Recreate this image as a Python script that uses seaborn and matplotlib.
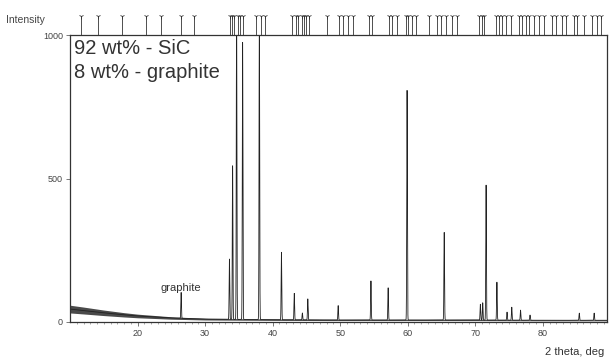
import numpy as np
import pandas as pd
import matplotlib
matplotlib.use("Agg")
import matplotlib.pyplot as plt
import seaborn as sns

# ---- data ----
peak_theta = [26.45, 33.6, 34.07, 34.66, 35.55, 38.03, 41.3, 43.2, 44.4, 45.2,
              49.7, 54.55, 57.1, 59.9, 65.4, 70.75, 71.1, 71.6, 73.2, 74.7,
              75.4, 76.7, 78.1, 85.4, 87.6]
peak_int = [90, 210, 535, 1100, 965, 1100, 235, 92, 24, 73,
            50, 136, 112, 800, 305, 55, 60, 470, 132, 28,
            45, 35, 18, 25, 25]
bg_theta = [10, 12, 15, 18, 20, 25, 30, 40, 50, 60, 70, 80, 90]
bg_int = [45, 40, 32, 25, 21, 14, 10, 8, 7, 7, 7, 6, 6]
stick_theta = [11.6, 14.1, 17.7, 21.3, 23.5, 26.5, 28.4, 33.7, 34.0, 34.3, 34.8,
               35.2, 35.6, 37.6, 38.2, 38.9, 42.8, 43.4, 43.8, 44.3, 44.6, 44.9,
               45.4, 48.0, 49.8, 50.4, 51.1, 51.9, 54.2, 54.7, 57.2, 57.6, 58.4,
               59.7, 60.1, 60.6, 61.2, 63.1, 64.3, 64.9, 65.6, 66.5, 67.3, 70.5,
               71.0, 71.3, 73.0, 73.5, 73.9, 74.5, 75.3, 76.5, 76.9, 77.5, 77.9,
               78.7, 79.4, 80.2, 81.4, 81.9, 82.8, 83.4, 84.6, 85.1, 86.1, 87.3,
               88.0, 88.6]
y_ticks = [0, 500, 1000]
x_ticks = [20, 30, 40, 50, 60, 70, 80]

# ---- build profile ----
theta = np.arange(10, 89.6, 0.005)
bg = np.interp(theta, bg_theta, bg_int)
profile = bg.copy()
s = 0.045
for t0, h in zip(peak_theta, peak_int):
    profile += h * np.exp(-0.5 * ((theta - t0) / s) ** 2)
profile = np.minimum(profile, 1040)
df = pd.DataFrame({"theta": theta, "I": profile})

sns.set_style("ticks")
plt.rcParams["font.family"] = ["Liberation Sans", "DejaVu Sans"]

fig = plt.figure(figsize=(6.09, 3.62), dpi=100)
ax = fig.add_axes([0.115, 0.1105, 0.8817, 0.7928])
ax_top = fig.add_axes([0.115, 0.9033, 0.8817, 0.07], sharex=ax)

ax.fill_between(theta, bg * 0.7, bg * 1.3, color="#2a2a2a", lw=0, alpha=0.85)
sns.lineplot(data=df, x="theta", y="I", ax=ax, color="#222222", lw=0.6)

ax.set_xlim(10, 89.5)
ax.set_ylim(0, 1000)
ax.set_xticks(x_ticks)
ax.set_xticks(np.arange(11, 90, 1), minor=True)
ax.set_yticks(y_ticks)
ax.tick_params(axis="both", labelsize=6.5, colors="#444444", length=3, width=0.5, pad=2)
ax.tick_params(axis="x", which="minor", length=1.5, width=0.4, colors="#666666")
ax.set_xlabel("")
ax.set_ylabel("")
for sp in ax.spines.values():
    sp.set_linewidth(0.9)
    sp.set_color("#333333")

ax.text(0.007, 0.985, "92 wt% - SiC\n8 wt% - graphite", transform=ax.transAxes,
        ha="left", va="top", fontsize=14.5, color="#333333", linespacing=1.3)
ax.text(26.45, 100, "graphite", ha="center", va="bottom", fontsize=8, color="#333333")
fig.text(0.993, 0.015, "2 theta, deg", ha="right", va="bottom", fontsize=8, color="#333333")
fig.text(0.01, 0.945, "Intensity", ha="left", va="center", fontsize=7.5, color="#444444")

# top stick pattern
ax_top.vlines(stick_theta, 0, 0.75, color="#333333", lw=0.6)
ax_top.plot(stick_theta, [0.75] * len(stick_theta), ls="none", marker="1",
            ms=4, mew=0.6, color="#333333")
ax_top.set_ylim(0, 1)
ax_top.axis("off")

fig.savefig("out.png", dpi=100)
